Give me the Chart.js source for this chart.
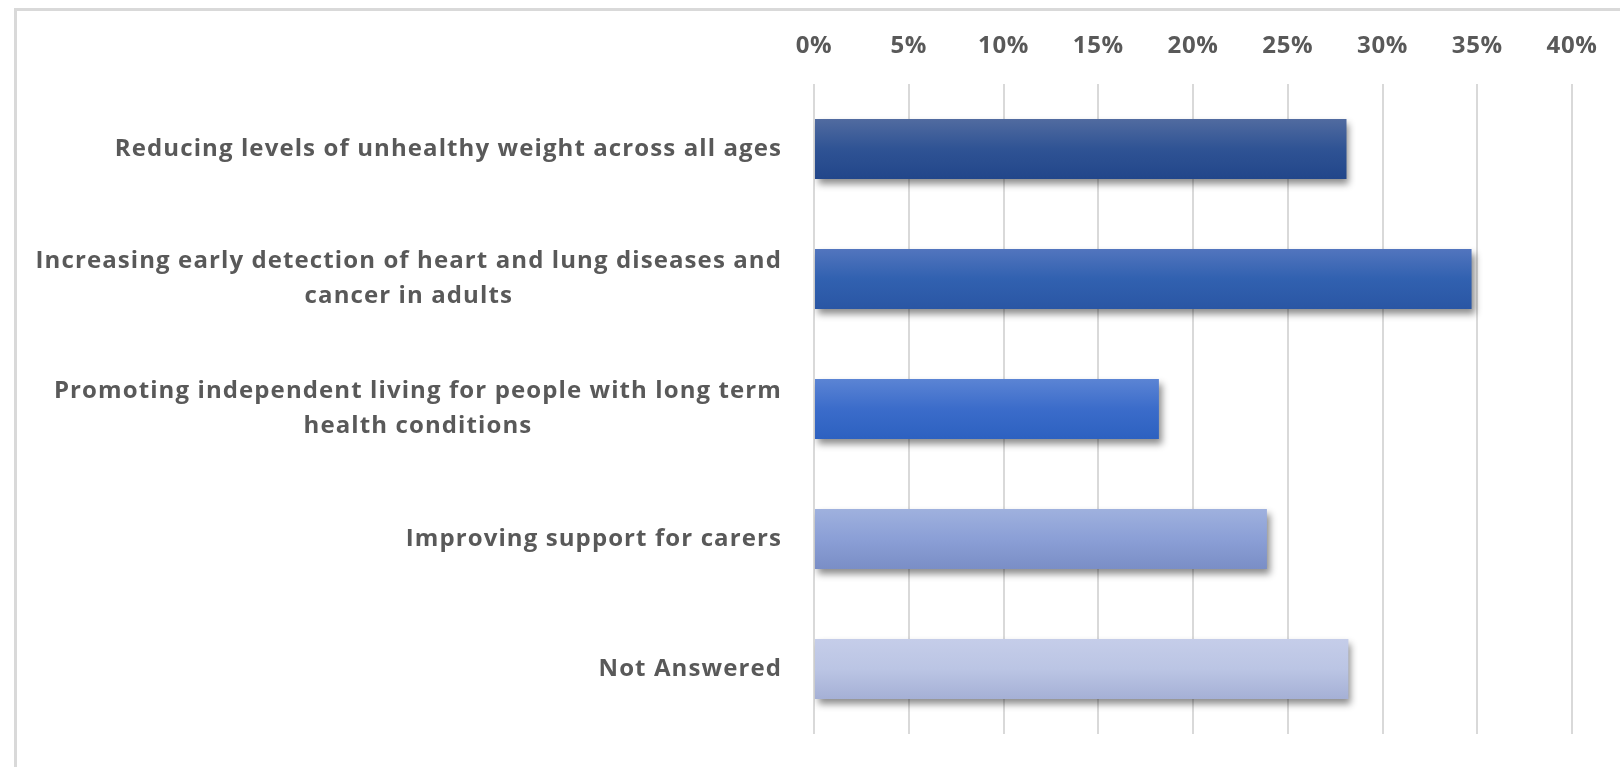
<!DOCTYPE html>
<html>
<head>
<meta charset="utf-8">
<script src="https://cdn.jsdelivr.net/npm/chart.js@4/dist/chart.umd.min.js"></script>
<style>
  html, body { margin: 0; padding: 0; background: #ffffff; overflow: hidden; }
  #wrap { position: relative; width: 1620px; height: 767px; }
  #frame { position: absolute; left: 14px; top: 8px; width: 1700px; height: 900px; border-left: 3px solid #d9d9d9; border-top: 3px solid #d9d9d9; box-sizing: border-box; }
  canvas { position: absolute; left: 0; top: 0; }
</style>
</head>
<body>
<div id="wrap">
  <div id="frame"></div>
  <canvas id="c" width="1620" height="767"></canvas>
</div>
<script>
const categories = [
  ["Reducing levels of unhealthy weight across all ages"],
  ["Increasing early detection of heart and lung diseases and", "cancer in adults"],
  ["Promoting independent living for people with long term", "health conditions"],
  ["Improving support for carers"],
  ["Not Answered"]
];
const values = [28.1, 34.7, 18.2, 23.9, 28.2];
const tickMin = 0;
const tickMax = 40;
const tickStep = 5;
const barGradients = [
  ["#516ba0", "#2f5394", "#22468a"],
  ["#5275be", "#3161b0", "#2a56a4"],
  ["#5b84d4", "#3b6cca", "#2d61c0"],
  ["#9fb1de", "#8b9fd6", "#7a8ec6"],
  ["#c5cde9", "#bbc5e4", "#a5b0d5"]
];

const FONT = "'Open Sans', Lato, sans-serif";
const TEXT = "#595959";

const spacingPlugin = {
  id: 'spacing',
  beforeDraw(chart) {
    chart.ctx.letterSpacing = '0.6px';
  }
};

const shadowPlugin = {
  id: 'barShadow',
  beforeDatasetDraw(chart) {
    const ctx = chart.ctx;
    ctx.save();
    ctx.shadowColor = 'rgba(0,0,0,0.45)';
    ctx.shadowBlur = 7;
    ctx.shadowOffsetX = 3;
    ctx.shadowOffsetY = 5;
  },
  afterDatasetDraw(chart) {
    chart.ctx.restore();
  }
};

const labelPlugin = {
  id: 'catLabels',
  afterDraw(chart) {
    const ctx = chart.ctx;
    const y = chart.scales.y;
    const right = chart.chartArea.left - 32;
    const lh = 35;
    ctx.save();
    ctx.font = "bold 24px " + FONT;
    ctx.letterSpacing = '1.1px';
    ctx.fillStyle = TEXT;
    ctx.textAlign = 'center';
    ctx.textBaseline = 'middle';
    categories.forEach((lines, i) => {
      const cy = y.getPixelForValue(i);
      const w = Math.max(...lines.map(l => ctx.measureText(l).width));
      const cx = right - w / 2;
      const y0 = cy - (lines.length - 1) * lh / 2;
      lines.forEach((l, j) => ctx.fillText(l, cx, y0 + j * lh));
    });
    ctx.restore();
  }
};

new Chart(document.getElementById('c'), {
  type: 'bar',
  data: {
    labels: categories.map(c => c.join(' ')),
    datasets: [{
      data: values,
      backgroundColor(context) {
        const chart = context.chart;
        const i = context.dataIndex;
        const stops = barGradients[i] || barGradients[0];
        if (!chart.chartArea || !chart.scales.y) return stops[1];
        const cy = chart.scales.y.getPixelForValue(i);
        const g = chart.ctx.createLinearGradient(0, cy - 30, 0, cy + 30);
        g.addColorStop(0, stops[0]);
        g.addColorStop(0.5, stops[1]);
        g.addColorStop(1, stops[2]);
        return g;
      },
      borderWidth: 0,
      categoryPercentage: 1,
      barPercentage: 0.46
    }]
  },
  options: {
    indexAxis: 'y',
    responsive: false,
    animation: false,
    events: [],
    layout: { padding: { left: 814, right: 48, top: 0, bottom: 33 } },
    plugins: { legend: { display: false }, tooltip: { enabled: false } },
    scales: {
      x: {
        position: 'top',
        min: tickMin,
        max: tickMax,
        ticks: {
          stepSize: tickStep,
          padding: 23,
          color: TEXT,
          font: { family: FONT, size: 24, weight: 'bold' },
          callback: v => v + '%'
        },
        grid: { color: '#d9d9d9', lineWidth: 2, drawTicks: false },
        border: { display: false },
        afterFit(scale) { scale.height = 84; }
      },
      y: {
        display: false
      }
    }
  },
  plugins: [spacingPlugin, shadowPlugin, labelPlugin]
});
</script>
</body>
</html>
